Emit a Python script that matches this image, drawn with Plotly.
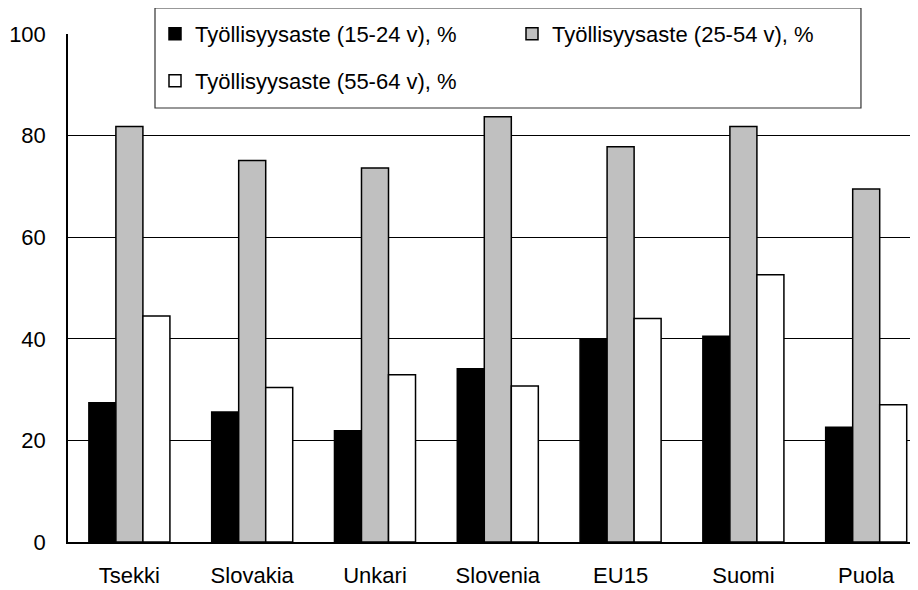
import plotly.graph_objects as go

countries = ["Tsekki", "Slovakia", "Unkari", "Slovenia", "EU15", "Suomi", "Puola"]
rate_15_24 = [27.4, 25.6, 21.9, 34.1, 39.8, 40.5, 22.6]
rate_25_54 = [81.8, 75.1, 73.6, 83.7, 77.8, 81.8, 69.5]
rate_55_64 = [44.5, 30.4, 32.9, 30.7, 44.0, 52.6, 27.0]

series_names = [
    "Työllisyysaste (15-24 v), %",
    "Työllisyysaste (25-54 v), %",
    "Työllisyysaste (55-64 v), %",
]
fills = ["#000000", "#c0c0c0", "#ffffff"]
font = dict(family="Liberation Sans, Arial, sans-serif", size=22, color="black")

fig = go.Figure()
for name, vals, col, leg in zip(series_names, [rate_15_24, rate_25_54, rate_55_64],
                                fills, ["legend", "legend", "legend2"]):
    fig.add_trace(go.Bar(
        x=countries, y=vals, name=name, legend=leg,
        marker=dict(color=col, line=dict(color="black", width=1.5)),
    ))

# legend box
fig.add_shape(type="rect", xref="paper", yref="paper",
              x0=0.1014, x1=0.9242, y0=0.8127, y1=1.0,
              fillcolor="white", line=dict(color="#333333", width=1.2),
              layer="above")

fig.update_layout(
    width=918, height=590,
    margin=dict(l=60, r=0, t=0, b=56, autoexpand=False),
    plot_bgcolor="white", paper_bgcolor="white",
    font=font,
    barmode="group", bargap=0.34, bargroupgap=0,
    legend=dict(orientation="h", x=0.1014, y=0.9906, xanchor="left", yanchor="top",
                bgcolor="rgba(0,0,0,0)", entrywidth=312, font=font,
                traceorder="normal"),
    legend2=dict(orientation="h", x=0.1014, y=0.9026, xanchor="left", yanchor="top",
                 bgcolor="rgba(0,0,0,0)", font=font),
    xaxis=dict(range=[-0.5, 6.487], showline=True, linecolor="black", linewidth=1.5,
               ticks="", ticklabelstandoff=13, showgrid=False),
    yaxis=dict(range=[0, 100], domain=[0, 0.9513], dtick=20, showline=True,
               linecolor="black", linewidth=1.5,
               gridcolor="black", gridwidth=1, ticks="", ticklabelstandoff=16,
               zeroline=False),
)

fig.write_html("out.html")
